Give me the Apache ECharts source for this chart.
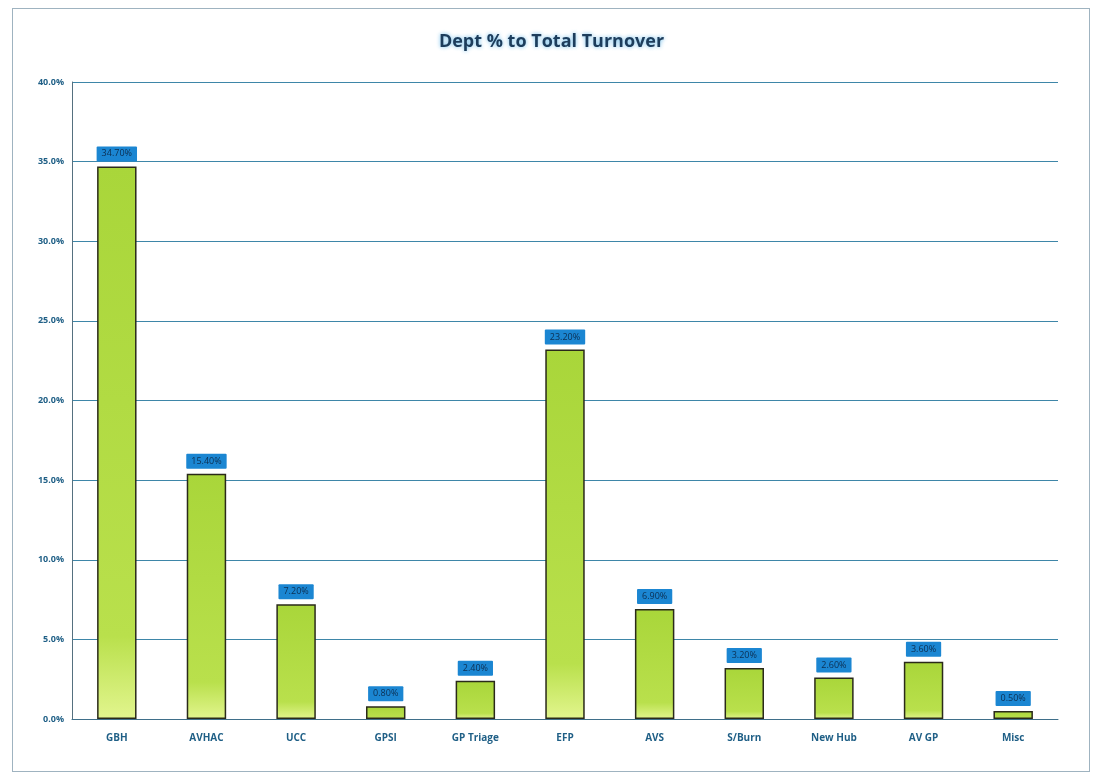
<!DOCTYPE html>
<html>
<head>
<meta charset="utf-8">
<script src="https://cdn.jsdelivr.net/npm/echarts@6/dist/echarts.min.js"></script>
<style>
  html, body { margin: 0; padding: 0; background: #ffffff; }
  #frame { position: absolute; left: 12px; top: 8px; width: 1078px; height: 764px; border: 1px solid #9fb3c0; box-sizing: border-box; }
  #chart { position: absolute; left: 0; top: 0; width: 1103px; height: 781px; }
</style>
</head>
<body>
<div id="frame"></div>
<div id="chart"></div>
<script>
// Department share of total turnover (%)
const departments = ['GBH', 'AVHAC', 'UCC', 'GPSI', 'GP Triage', 'EFP', 'AVS', 'S/Burn', 'New Hub', 'AV GP', 'Misc'];
const sharePercent = [34.70, 15.40, 7.20, 0.80, 2.40, 23.20, 6.90, 3.20, 2.60, 3.60, 0.50];
const yTicks = [0, 5, 10, 15, 20, 25, 30, 35, 40];

const chart = echarts.init(document.getElementById('chart'));
chart.setOption({
  backgroundColor: 'transparent',
  animation: false,
  title: {
    text: 'Dept % to Total Turnover',
    left: 'center',
    top: 28,
    textStyle: {
      fontFamily: 'Open Sans',
      fontWeight: 'bold',
      fontSize: 18,
      color: '#1d3d5c',
      textShadowColor: 'rgba(70,170,230,0.8)',
      textShadowBlur: 4
    }
  },
  grid: { left: 72, right: 45, top: 82, bottom: 62 },
  xAxis: {
    type: 'category',
    data: departments,
    axisTick: { show: false },
    axisLine: { lineStyle: { color: '#3f6f8a', width: 1 } },
    axisLabel: {
      color: '#1f5f86',
      fontFamily: 'Open Sans',
      fontWeight: 'bold',
      fontSize: 10,
      margin: 14
    }
  },
  yAxis: {
    type: 'value',
    min: yTicks[0],
    max: yTicks[yTicks.length - 1],
    interval: 5,
    axisLine: { show: true, lineStyle: { color: '#55707f', width: 1 } },
    axisTick: { show: false },
    axisLabel: {
      formatter: v => v.toFixed(1) + '%',
      color: '#1f5f86',
      fontFamily: 'Open Sans',
      fontWeight: 'bold',
      fontSize: 9,
      margin: 8
    },
    splitLine: { lineStyle: { color: '#3e86a8', width: 1 } }
  },
  series: [{
    type: 'bar',
    data: sharePercent,
    barWidth: '44%',
    itemStyle: {
      color: new echarts.graphic.LinearGradient(0, 0, 0, 1, [
        { offset: 0, color: '#a9d63a' },
        { offset: 0.85, color: '#b9e04c' },
        { offset: 1, color: '#e2f58e' }
      ]),
      borderColor: '#2a2a1a',
      borderWidth: 1.5
    },
    label: {
      show: true,
      position: 'top',
      distance: 5,
      formatter: p => p.value.toFixed(2) + '%',
      backgroundColor: '#1b86d2',
      color: '#0c2f52',
      fontFamily: 'Open Sans',
      fontSize: 9,
      padding: [3, 5],
      borderRadius: 1
    }
  }]
});
</script>
</body>
</html>
